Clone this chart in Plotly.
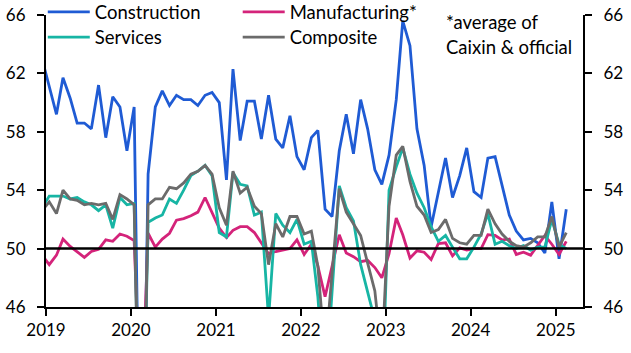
import pandas as pd
import plotly.graph_objects as go

# Monthly, Dec 2018 .. Feb 2025 (plotted mid-month)
months = pd.date_range("2018-12-01", "2025-02-01", freq="MS") + pd.Timedelta(days=14)

construction = [63.0,
    61.1, 59.2, 61.7, 60.3, 58.6, 58.6, 58.2, 61.2, 57.6, 60.4, 59.7, 56.7,
    59.7, 26.6, 55.1, 59.7, 60.8, 59.8, 60.5, 60.2, 60.2, 59.8, 60.5, 60.7,
    60.0, 54.7, 62.3, 57.4, 60.1, 60.1, 57.5, 60.5, 57.5, 56.9, 59.1, 56.3,
    55.4, 57.6, 58.1, 52.7, 52.2, 56.7, 59.2, 56.5, 60.2, 58.2, 55.4, 54.4,
    56.4, 60.2, 65.6, 63.9, 58.2, 55.7, 51.5, 53.8, 56.2, 53.5, 55.0, 56.9,
    53.9, 53.5, 56.2, 56.3, 54.4, 52.3, 51.2, 50.6, 50.7, 50.4, 49.7, 53.2,
    49.3, 52.7]

manufacturing = [49.55,
    48.9, 49.55, 50.65, 50.15, 49.8, 49.4, 49.8, 49.95, 50.6, 50.5, 51.0, 50.85,
    50.55, 38.0, 51.05, 50.1, 50.65, 51.05, 51.95, 52.05, 52.25, 52.5, 53.5, 52.45,
    51.4, 50.75, 51.25, 51.5, 51.5, 51.1, 50.35, 49.65, 49.8, 49.9, 50.0, 50.6,
    49.6, 50.3, 48.8, 46.7, 48.85, 50.95, 49.7, 49.45, 49.1, 49.2, 48.7, 48.0,
    49.65, 52.1, 50.95, 49.35, 49.85, 49.75, 49.25, 50.35, 50.4, 49.5, 50.05, 49.9,
    50.0, 50.0, 50.95, 50.9, 50.6, 50.65, 49.6, 49.75, 49.55, 50.2, 50.9, 50.3,
    49.6, 50.5]

services = [52.8,
    53.6, 53.6, 53.6, 53.4, 53.5, 53.2, 53.0, 52.6, 53.0, 51.4, 53.5, 53.0,
    53.1, 30.1, 51.8, 52.1, 52.3, 53.4, 53.1, 54.0, 55.0, 55.3, 55.7, 55.0,
    51.1, 50.8, 55.2, 54.4, 54.3, 52.3, 52.5, 45.2, 52.4, 51.6, 51.1, 52.0,
    50.3, 50.5, 46.7, 40.0, 47.1, 54.3, 52.8, 51.9, 48.9, 47.0, 45.1, 39.4,
    54.0, 55.6, 56.9, 55.1, 53.8, 52.8, 51.5, 50.5, 50.9, 50.1, 49.3, 49.3,
    50.1, 51.0, 52.4, 50.3, 50.5, 50.2, 50.0, 50.2, 49.9, 50.1, 50.1, 52.0,
    50.3, 50.0]

composite = [52.6,
    53.2, 52.4, 54.0, 53.4, 53.3, 53.0, 53.1, 53.0, 53.1, 52.0, 53.7, 53.4,
    53.0, 28.9, 53.0, 53.4, 53.4, 54.2, 54.1, 54.5, 55.1, 55.3, 55.7, 55.1,
    52.8, 51.6, 55.3, 53.8, 54.2, 52.9, 52.4, 48.9, 51.7, 50.8, 52.2, 52.2,
    51.0, 51.2, 48.8, 42.7, 48.4, 54.1, 52.5, 51.7, 50.9, 49.0, 47.1, 42.6,
    52.9, 56.4, 57.0, 54.6, 52.9, 52.3, 51.1, 51.3, 52.0, 50.7, 50.4, 50.3,
    50.9, 50.9, 52.7, 51.7, 51.0, 50.5, 50.2, 50.1, 50.4, 50.8, 50.8, 52.2,
    50.1, 51.1]

y_range = [46, 66]
y_dtick = 4
x_range = ["2019-01-01", "2025-04-28"]

FONT = "Lato"
TXT = 18.5

# (name, values, colour, legend id, legend x (paper), legend y (paper))
series = [
    ("Construction", construction, "#1f5bd4", "legend", -0.006, 1.074),
    ("Manufacturing*", manufacturing, "#d4237a", "legend2", 0.357, 1.074),
    ("Services", services, "#17b5a4", "legend3", -0.006, 0.988),
    ("Composite", composite, "#6b6b6b", "legend4", 0.357, 0.988),
]

fig = go.Figure()
legends = {}
for name, vals, col, leg, lx, ly in series:
    fig.add_trace(go.Scatter(x=months, y=vals, name=name, mode="lines",
                             line=dict(color=col, width=2.8), legend=leg))
    legends[leg] = dict(x=lx, y=ly, xanchor="left", yanchor="top",
                        bgcolor="rgba(0,0,0,0)", itemwidth=42,
                        font=dict(size=TXT, family=FONT, color="black"))

# invisible helper so the right-hand axis is drawn
fig.add_trace(go.Scatter(x=months, y=composite, yaxis="y2", mode="lines",
                         line=dict(width=0), opacity=0, showlegend=False,
                         hoverinfo="skip"))

axis_common = dict(showline=True, linecolor="black", linewidth=2, ticks="outside",
                   ticklen=7, tickwidth=2, tickcolor="black", showgrid=False,
                   zeroline=False, tickfont=dict(size=17, color="black", family=FONT))

fig.update_layout(
    width=631, height=353,
    margin=dict(l=46, r=48, t=15, b=46, autoexpand=False),
    paper_bgcolor="white", plot_bgcolor="white",
    font=dict(family=FONT, size=17, color="black"),
    xaxis=dict(type="date", range=x_range, dtick="M12", tick0="2019-01-01",
               tickformat="%Y", **axis_common),
    yaxis=dict(range=y_range, dtick=y_dtick, tick0=46, ticklabelstandoff=8, **axis_common),
    yaxis2=dict(range=y_range, dtick=y_dtick, tick0=46, overlaying="y", side="right",
                ticklabelstandoff=8, **axis_common),
    **legends,
)

fig.add_hline(y=50, line_color="black", line_width=2.5)

fig.add_annotation(text="*average of", xref="paper", yref="paper",
                   x=(444 - 46) / 537, y=1 - (22 - 15) / 292, xanchor="left", yanchor="middle",
                   showarrow=False, font=dict(size=TXT, family=FONT, color="black"))
fig.add_annotation(text="Caixin & official", xref="paper", yref="paper",
                   x=(444 - 46) / 537, y=1 - (47 - 15) / 292, xanchor="left", yanchor="middle",
                   showarrow=False, font=dict(size=TXT, family=FONT, color="black"))

fig.write_html("out.html")
